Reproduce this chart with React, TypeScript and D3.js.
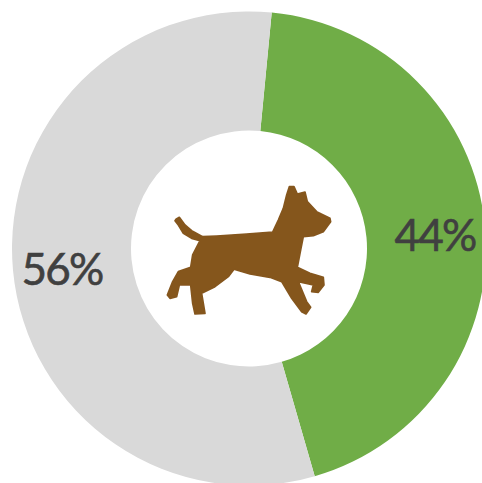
import React from "react";
import * as d3 from "d3";

const categories = ["Dogs", "Other"];
const values = [44, 56];
const labels = ["44%", "56%"];
const colors = ["#70AD47", "#D9D9D9"];
const dogOutline: [number, number][] = [
  [78,148],[88,142],[105,165],[125,182],[158,200],[200,198],[290,192],[368,186],[385,150],[400,115],[410,75],[418,50],[432,50],[442,72],[465,66],[472,95],[500,125],[540,145],[542,155],[520,185],[490,197],[460,200],[452,240],[442,292],[480,310],[520,322],[522,345],[505,367],[485,365],[490,345],[445,335],[470,395],[482,412],[468,432],[455,425],[425,385],[395,335],[360,322],[300,312],[252,298],[235,320],[195,350],[155,370],[165,430],[135,432],[128,400],[122,345],[88,345],[80,380],[60,385],[52,375],[68,335],[85,305],[122,292],[128,255],[150,212],[125,205],[100,190],[85,165],[75,152],
];

const W = 482, H = 483, CX = 249, CY = 248.5, R = 237, r = 118;
const START = (5.5 * Math.PI) / 180;

export default function App() {
  const pie = d3.pie<number>().sort(null).startAngle(START).endAngle(START + 2 * Math.PI);
  const arcs = pie(values);
  const arc = d3.arc<d3.PieArcDatum<number>>().innerRadius(r).outerRadius(R);
  const labelPos: [number, number][] = [[186, -15], [-187, 19]];
  const dogPath = d3.line().curve(d3.curveLinearClosed)(dogOutline) as string;
  return (
    <svg width={W} height={H} style={{ position: "absolute", left: 0, top: 0 }}>
      <defs>
        <filter id="soft" x="-5%" y="-5%" width="110%" height="110%">
          <feGaussianBlur stdDeviation="0.5" />
        </filter>
      </defs>
      <g transform={`translate(${CX},${CY})`}>
        {arcs.map((a, i) => (
          <path key={categories[i]} d={arc(a) as string} fill={colors[i]} />
        ))}
        {arcs.map((a, i) => (
          <text key={labels[i]} x={labelPos[i][0]} y={labelPos[i][1]} textAnchor="middle" dominantBaseline="central"
            fontFamily="Lato" fontSize={44} letterSpacing={-1.8} fill="#404040" stroke="#404040" strokeWidth={0.6}>{labels[i]}</text>
        ))}
      </g>
      <path d={dogPath} transform="translate(150,170) scale(0.3333)" fill="#85561F" stroke="#85561F" strokeWidth={5} strokeLinejoin="round" filter="url(#soft)" />
    </svg>
  );
}
